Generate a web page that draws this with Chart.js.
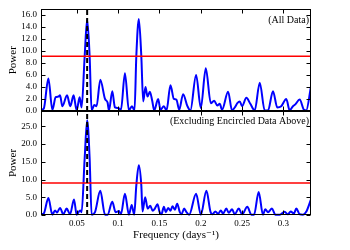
<!DOCTYPE html>
<html>
<head>
<meta charset="utf-8">
<script src="https://cdn.jsdelivr.net/npm/chart.js@4.4.1/dist/chart.umd.min.js"></script>
<style>
body { margin: 0; background: #fff; }
#wrap { position: relative; width: 350px; height: 250px; }
#wrap canvas { position: absolute; left: 0; top: 0; }
</style>
</head>
<body>
<div id="wrap">
<canvas id="canvas-top" width="350" height="250"></canvas>
<canvas id="canvas-bottom" width="350" height="250"></canvas>
</div>
<script>
// frequency range of the periodogram (days^-1)
const xMin = 0.00667;
const xMax = 0.3333;
const xTicks = [0.05, 0.1, 0.15, 0.2, 0.25, 0.3];
const xTickLabels = ['0.05', '0.1', '0.15', '0.2', '0.25', '0.3'];

const yTicksTop = [0, 2, 4, 6, 8, 10, 12, 14, 16];
const yTicksBottom = [0, 5, 10, 15, 20, 25];

const markedFreq = 0.0625;
const thresholdTop = 9.1;
const thresholdBottom = 9.0;
const panelLabels = ['(All Data)', '(Excluding Encircled Data Above)'];

// top panel: all data
const freqTop = [
    0.0068, 0.0100, 0.0156, 0.0204, 0.0244, 0.0277, 0.0297, 0.0325, 0.0382, 0.0421,
    0.0461, 0.0498, 0.0534, 0.0558, 0.0595, 0.0625, 0.0655, 0.0679, 0.0711, 0.0739,
    0.0784, 0.0841, 0.0872, 0.0889, 0.0929, 0.0961, 0.1001, 0.1034, 0.1082, 0.1130,
    0.1167, 0.1198, 0.1220, 0.1250, 0.1280, 0.1303, 0.1331, 0.1355, 0.1384, 0.1412,
    0.1436, 0.1484, 0.1512, 0.1553, 0.1585, 0.1633, 0.1674, 0.1705, 0.1738, 0.1786,
    0.1838, 0.1874, 0.1943, 0.2000, 0.2060, 0.2121, 0.2161, 0.2200, 0.2229, 0.2257,
    0.2330, 0.2378, 0.2411, 0.2442, 0.2471, 0.2499, 0.2551, 0.2599, 0.2652, 0.2713,
    0.2773, 0.2813, 0.2873, 0.2925, 0.2973, 0.3034, 0.3075, 0.3115, 0.3143, 0.3196,
    0.3248, 0.3275, 0.3333
];
const powerTop = [
    0.2, 0.4, 5.4, 0.2, 2.3, 2.4, 2.6, 0.8, 2.6, 0.8,
    2.6, 0.1, 2.3, 0.6, 9.1, 15.2, 9.1, 0.1, 1.0, 0.8,
    5.2, 2.0, 1.4, 0.1, 3.3, 0.6, 0.5, 0.2, 6.3, 0.1,
    0.8, 0.1, 9.2, 15.3, 9.2, 1.6, 4.0, 2.4, 3.2, 1.7,
    0.1, 2.0, 0.2, 0.8, 0.1, 4.3, 2.0, 1.9, 0.2, 2.8,
    0.8, 0.1, 6.0, 0.5, 7.1, 1.3, 1.7, 0.9, 1.2, 0.2,
    3.2, 0.1, 0.6, 1.3, 1.6, 0.8, 2.2, 1.2, 0.1, 4.7,
    0.1, 0.1, 3.3, 0.6, 0.8, 2.0, 0.1, 0.8, 1.1, 1.9,
    0.2, 0.1, 4.1
];

// bottom panel: encircled data removed
const freqBottom = [
    0.0068, 0.0100, 0.0156, 0.0204, 0.0237, 0.0261, 0.0297, 0.0337, 0.0377, 0.0418,
    0.0466, 0.0498, 0.0539, 0.0558, 0.0595, 0.0625, 0.0655, 0.0679, 0.0720, 0.0784,
    0.0841, 0.0872, 0.0929, 0.0969, 0.1010, 0.1034, 0.1082, 0.1130, 0.1164, 0.1194,
    0.1220, 0.1250, 0.1280, 0.1295, 0.1327, 0.1357, 0.1388, 0.1418, 0.1444, 0.1476,
    0.1502, 0.1524, 0.1553, 0.1577, 0.1605, 0.1633, 0.1657, 0.1686, 0.1714, 0.1746,
    0.1766, 0.1798, 0.1826, 0.1859, 0.1943, 0.2000, 0.2068, 0.2116, 0.2140, 0.2176,
    0.2209, 0.2242, 0.2269, 0.2309, 0.2338, 0.2378, 0.2411, 0.2459, 0.2499, 0.2563,
    0.2611, 0.2644, 0.2700, 0.2752, 0.2780, 0.2813, 0.2861, 0.2901, 0.2954, 0.3014,
    0.3054, 0.3087, 0.3126, 0.3155, 0.3196, 0.3236, 0.3275, 0.3333
];
const powerBottom = [
    0.2, 0.4, 4.8, 0.1, 1.3, 0.7, 2.0, 0.2, 1.8, 0.2,
    4.4, 0.1, 1.3, 0.8, 16.0, 26.7, 16.0, 0.1, 0.8, 6.8,
    0.1, 0.1, 3.7, 0.8, 1.1, 0.2, 6.0, 0.1, 2.8, 0.1,
    8.4, 14.0, 8.4, 1.0, 5.0, 1.8, 2.6, 1.2, 1.8, 3.0,
    0.8, 0.2, 2.3, 0.8, 2.0, 1.2, 2.5, 1.5, 3.2, 0.8,
    0.2, 1.8, 0.8, 0.1, 6.0, 0.1, 6.8, 1.0, 0.2, 1.0,
    0.3, 1.3, 0.4, 1.8, 0.6, 1.6, 0.2, 1.8, 0.2, 2.3,
    0.1, 0.1, 6.5, 0.1, 1.6, 0.8, 1.8, 0.1, 0.1, 0.9,
    0.2, 1.0, 0.4, 1.8, 0.2, 0.1, 0.9, 4.4
];

const serif = '"Liberation Serif", "DejaVu Serif", serif';

// box round the plot, inward ticks on all sides, panel caption
const framePlugin = {
    id: 'frame',
    afterDraw(chart, args, opts)
    {
        const ctx = chart.ctx;
        const a = chart.chartArea;
        const sx = chart.scales.x;
        const sy = chart.scales.y;
        const l = Math.round(a.left) + 0.5;
        const r = Math.round(a.right) - 0.5;
        const t = Math.round(a.top) + 0.5;
        const b = Math.round(a.bottom) - 0.5;

        ctx.save();
        ctx.strokeStyle = '#000';
        ctx.lineWidth = 1;
        ctx.strokeRect(l, t, r - l, b - t);

        ctx.beginPath();
        for (const v of xTicks)
        {
            const px = Math.round(sx.getPixelForValue(v)) + 0.5;
            ctx.moveTo(px, b); ctx.lineTo(px, b - 4);
            ctx.moveTo(px, t); ctx.lineTo(px, t + 4);
        }
        for (const v of opts.yTicks)
        {
            const py = Math.round(sy.getPixelForValue(v)) + 0.5;
            ctx.moveTo(l, py); ctx.lineTo(l + 4, py);
            ctx.moveTo(r, py); ctx.lineTo(r - 4, py);
        }
        ctx.stroke();

        ctx.fillStyle = '#000';
        ctx.font = '10px ' + serif;
        ctx.textAlign = 'right';
        ctx.textBaseline = 'middle';
        ctx.fillText(opts.label, a.right - 2, a.top + 10.5);
        ctx.restore();
    }
};

function makePanel(canvas, freq, power, threshold, yMax, yTicks, label, isBottom)
{
    const pts = freq.map((f, i) => ({x: f, y: power[i]}));

    return new Chart(canvas, {
        type: 'line',
        data: {
            datasets: [{
                data: [{x: markedFreq, y: 0}, {x: markedFreq, y: yMax}],
                borderColor: '#000',
                borderWidth: 2,
                borderDash: [5, 3],
                pointRadius: 0,
                tension: 0,
                order: 1
            }, {
                data: [{x: xMin, y: threshold}, {x: xMax, y: threshold}],
                borderColor: '#ff0000',
                borderWidth: 1.5,
                pointRadius: 0,
                tension: 0,
                order: 2
            }, {
                data: pts,
                borderColor: '#0000ff',
                borderWidth: 2,
                pointRadius: 0,
                cubicInterpolationMode: 'monotone',
                clip: {left: 0, top: 0, right: 0, bottom: 1},
                order: 3
            }]
        },
        options: {
            responsive: false,
            animation: false,
            devicePixelRatio: 1,
            layout: {
                padding: isBottom
                    ? {top: 111, right: 39, bottom: 0, left: 0}
                    : {top: 6, right: 39, bottom: 139, left: 0}
            },
            plugins: {
                legend: {display: false},
                tooltip: {enabled: false},
                frame: {label: label, yTicks: yTicks}
            },
            scales: {
                x: {
                    type: 'linear',
                    min: xMin,
                    max: xMax,
                    display: isBottom,
                    afterBuildTicks: (s) => { s.ticks = xTicks.map((v) => ({value: v})); },
                    afterFit: (s) => { s.height = isBottom ? 35 : 0; },
                    grid: {display: false, drawTicks: false},
                    border: {display: false},
                    ticks: {
                        padding: 3,
                        color: '#000',
                        maxRotation: 0,
                        autoSkip: false,
                        font: {family: serif, size: 9},
                        callback: (v, i) => xTickLabels[i]
                    },
                    title: {
                        display: true,
                        text: 'Frequency (days\u207B\u00B9)',
                        color: '#000',
                        font: {family: serif, size: 11},
                        padding: {top: 0, bottom: 8}
                    }
                },
                y: {
                    min: 0,
                    max: yMax,
                    afterBuildTicks: (s) => { s.ticks = yTicks.map((v) => ({value: v})); },
                    afterFit: (s) => { s.width = 41; },
                    grid: {display: false, drawTicks: false},
                    border: {display: false},
                    ticks: {
                        padding: 4,
                        color: '#000',
                        autoSkip: false,
                        font: {family: serif, size: 9},
                        callback: (v, i) => yTicks[i].toFixed(1)
                    },
                    title: {
                        display: true,
                        text: 'Power',
                        color: '#000',
                        font: {family: serif, size: 11},
                        padding: {top: 7, bottom: 0}
                    }
                }
            }
        },
        plugins: [framePlugin]
    });
}

makePanel(document.getElementById('canvas-top'), freqTop, powerTop,
    thresholdTop, 16.9, yTicksTop, panelLabels[0], false);
makePanel(document.getElementById('canvas-bottom'), freqBottom, powerBottom,
    thresholdBottom, 29.3, yTicksBottom, panelLabels[1], true);
</script>
</body>
</html>
